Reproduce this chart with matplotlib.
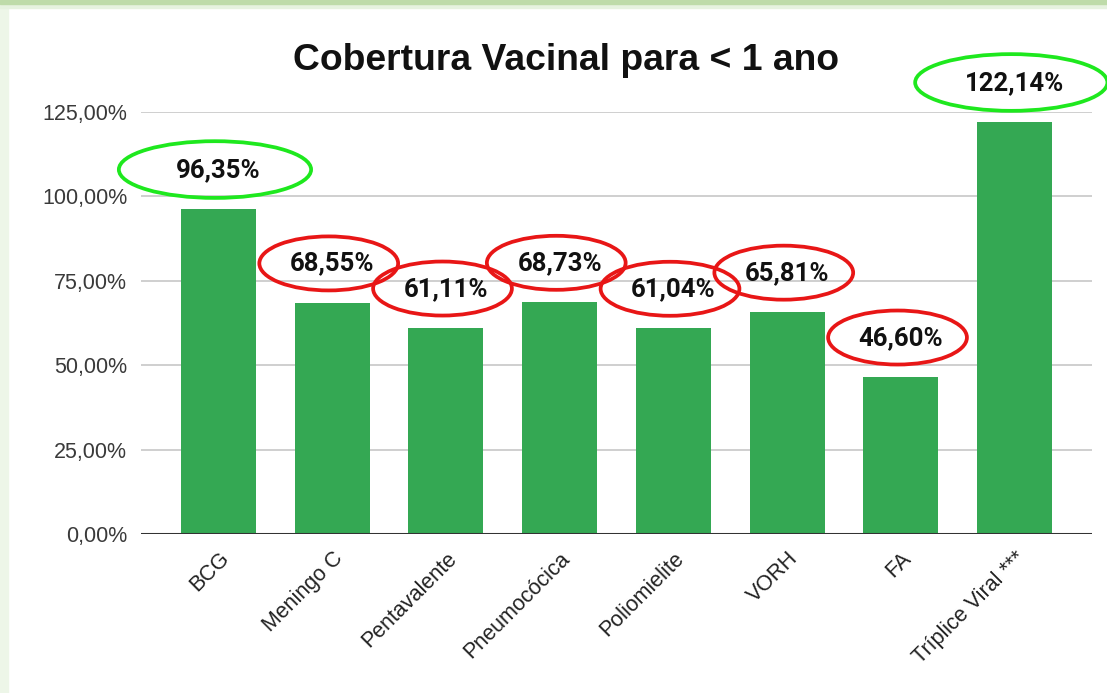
import matplotlib
matplotlib.use("Agg")
import matplotlib.pyplot as plt
from matplotlib.patches import Ellipse, Rectangle
from matplotlib.ticker import FuncFormatter, MultipleLocator

# Cobertura vacinal (%) para menores de 1 ano
categories = ["BCG", "Meningo C", "Pentavalente", "Pneumocócica",
              "Poliomielite", "VORH", "FA", "Tríplice Viral ***"]
coverage = [96.35, 68.55, 61.11, 68.73, 61.04, 65.81, 46.60, 122.14]
TARGET = 90.0  # acima da meta: circulo verde; abaixo: vermelho


def pt_br(v, decimals=2):
    return f"{v:.{decimals}f}".replace(".", ",") + "%"


fig = plt.figure(figsize=(11.07, 6.93), dpi=100, facecolor="white")

# faixas verdes da moldura (topo e esquerda)
fig.patches.append(Rectangle((0, 0), 0.0072, 1, transform=fig.transFigure,
                             color="#edf6e8", zorder=0))
fig.patches.append(Rectangle((0, 0.989), 1, 0.011, transform=fig.transFigure,
                             color="#e6f2df", zorder=0))
fig.patches.append(Rectangle((0, 0.994), 1, 0.006, transform=fig.transFigure,
                             color="#bedba9", zorder=0))

ax = fig.add_axes([0.1274, 0.2294, 0.8591, 0.6090])
x = list(range(len(categories)))
ax.bar(x, coverage, width=0.66, color="#34a853", zorder=2)

ax.set_xlim(-0.68, 7.68)
ax.set_ylim(0, 125)
ax.yaxis.set_major_locator(MultipleLocator(25))
ax.yaxis.set_major_formatter(FuncFormatter(lambda v, _: pt_br(v)))
ax.grid(axis="y", color="#cccccc", lw=1.3, zorder=0)
ax.axhline(0, color="#333333", lw=2.2, zorder=3)
for s in ax.spines.values():
    s.set_visible(False)
ax.tick_params(axis="both", length=0)
ax.tick_params(axis="y", pad=10, labelsize=15.5, labelcolor="#3a3a3a")
ax.set_xticks(x)
ax.set_xticklabels(categories, rotation=45, ha="right", va="top",
                   rotation_mode="anchor", fontsize=15.5, color="#222222")
ax.tick_params(axis="x", pad=10)
for lab in ax.get_xticklabels() + ax.get_yticklabels():
    lab.set_family(["Liberation Sans", "DejaVu Sans"])

fig.text(0.511, 0.913, "Cobertura Vacinal para < 1 ano", ha="center",
         va="center", fontsize=26.8, fontweight="bold",
         family=["Liberation Sans", "DejaVu Sans"], color="#111111")

for i, v in enumerate(coverage):
    ax.annotate(pt_br(v), (i, v), xytext=(0, 28), textcoords="offset points",
                ha="center", va="center", fontsize=18.5, fontweight="bold",
                family=["Roboto", "DejaVu Sans"], color="#111111",
                annotation_clip=False, zorder=5)
    ok = v >= TARGET
    lab_y = v + 11.6
    w, h = (1.69, 16.8) if ok else (1.22, 16.0)
    ax.add_patch(Ellipse((i - 0.03, lab_y), w, h, fill=False,
                         edgecolor="#1ee81e" if ok else "#e81616",
                         lw=2.7, clip_on=False, zorder=6))

fig.savefig("out.png", dpi=100)
